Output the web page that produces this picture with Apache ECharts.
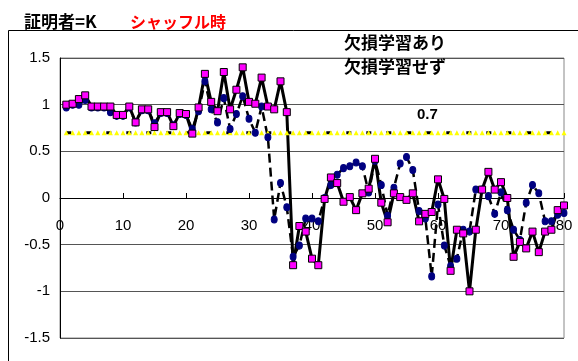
<!DOCTYPE html>
<html>
<head>
<meta charset="utf-8">
<script src="https://cdn.jsdelivr.net/npm/echarts@6/dist/echarts.min.js"></script>
<style>
  html, body { margin: 0; padding: 0; background: #fff; }
  #chart { width: 578px; height: 361px; }
</style>
</head>
<body>
<div id="chart"></div>
<script>
// trial number (x) for every measurement
const trials = [
  1, 2, 3, 4, 5, 6, 7, 8, 9, 10,
  11, 12, 13, 14, 15, 16, 17, 18, 19, 20,
  21, 22, 23, 24, 25, 26, 27, 28, 29, 30,
  31, 32, 33, 34, 35, 36, 37, 38, 39, 40,
  41, 42, 43, 44, 45, 46, 47, 48, 49, 50,
  51, 52, 53, 54, 55, 56, 57, 58, 59, 60,
  61, 62, 63, 64, 65, 66, 67, 68, 69, 70,
  71, 72, 73, 74, 75, 76, 77, 78, 79, 80
];

// 欠損学習あり (solid line, magenta squares)
const withLearning = [
  1.00, 1.01, 1.06, 1.10, 0.98, 0.98, 0.98, 0.98, 0.89, 0.89,
  0.98, 0.81, 0.95, 0.95, 0.76, 0.92, 0.92, 0.77, 0.91, 0.90,
  0.69, 0.97, 1.33, 1.03, 0.93, 1.35, 0.95, 1.16, 1.40, 1.03,
  1.01, 1.29, 0.98, 0.95, 1.25, 0.92, -0.72, -0.30, -0.36, -0.65,
  -0.72, -0.01, 0.22, 0.16, -0.04, 0.01, -0.13, 0.05, 0.10, 0.42,
  -0.05, -0.26, 0.05, 0.01, -0.02, 0.05, -0.25, -0.17, -0.15, 0.20,
  -0.01, -0.78, -0.34, -0.38, -1.00, -0.34, 0.09, 0.28, 0.09, 0.17,
  0.00, -0.63, -0.47, -0.54, -0.36, -0.58, -0.36, -0.34, -0.13, -0.08
];

// 欠損学習せず (dashed line, navy circles)
const withoutLearning = [
  0.97, 1.00, 1.00, 1.05, 0.97, 0.97, 0.97, 0.92, 0.88, 0.88,
  0.97, 0.81, 0.94, 0.94, 0.80, 0.91, 0.91, 0.78, 0.90, 0.89,
  0.74, 0.93, 1.25, 0.95, 0.81, 1.07, 0.74, 0.90, 1.09, 0.85,
  0.70, 0.98, 0.65, -0.23, 0.16, -0.10, -0.63, -0.51, -0.22, -0.22,
  -0.25, 0.00, 0.14, 0.25, 0.32, 0.34, 0.38, 0.34, 0.06, 0.40,
  0.14, -0.19, 0.11, 0.37, 0.44, 0.30, -0.14, -0.22, -0.84, -0.07,
  -0.51, -0.73, -0.65, -0.34, -0.36, 0.09, 0.09, 0.02, -0.17, 0.06,
  -0.13, -0.34, -0.45, -0.05, 0.14, 0.05, -0.25, -0.25, -0.18, -0.16
];

// threshold value and the trial where its value label sits
const threshold = 0.7;
const thresholdLabelTrial = 58;

const seriesNames = ['欠損学習あり', '欠損学習せず'];
const titleMain = '証明者=K';
const titleSub = 'シャッフル時';

const xTicks = { min: 0, max: 80, interval: 10 };
const yTicks = { min: -1.5, max: 1.5, interval: 0.5 };

// plot box geometry
const plot = { left: 60, top: 58, width: 504, height: 280 };
// the x axis is drawn through y = 0, i.e. half way up the plot box
const xAxisOffset = -(plot.height * (0 - yTicks.min) / (yTicks.max - yTicks.min));

const pairs = (ys) => trials.map((t, i) => [t, ys[i]]);
const thresholdData = trials.map((t) => {
  const item = { value: [t, threshold] };
  if (t === thresholdLabelTrial) {
    item.label = {
      show: true,
      position: 'top',
      distance: 8,
      offset: [2, 0],
      formatter: (p) => String(p.value[1]),
      fontSize: 15,
      fontWeight: 'bold',
      color: '#000',
      fontFamily: 'Liberation Sans, Arial, sans-serif'
    };
  }
  return item;
});

const jp = '"Noto Sans CJK JP", sans-serif';
const latin = '"Liberation Sans", Arial, sans-serif';

const chart = echarts.init(document.getElementById('chart'), null, { renderer: 'canvas' });
chart.setOption({
  animation: false,
  backgroundColor: '#fff',
  graphic: [{
    type: 'rect',
    silent: true,
    z: 0,
    shape: { x: 8.5, y: 30.5, width: 700, height: 500 },
    style: { fill: 'none', stroke: '#000', lineWidth: 1 }
  }],
  title: [
    {
      text: titleMain, left: 24, top: 13, padding: 0,
      textStyle: { fontSize: 17, fontWeight: 'bold', color: '#000', fontFamily: jp }
    },
    {
      text: titleSub, left: 130, top: 14, padding: 0,
      textStyle: { fontSize: 16, fontWeight: 'bold', color: '#ff0000', fontFamily: jp }
    }
  ],
  legend: {
    data: seriesNames,
    orient: 'vertical',
    left: 338,
    top: 34,
    padding: 0,
    itemWidth: 0,
    itemHeight: 0,
    itemGap: 7,
    selectedMode: false,
    textStyle: { fontSize: 17, fontWeight: 'bold', color: '#000', fontFamily: jp }
  },
  grid: {
    left: plot.left, top: plot.top, width: plot.width, height: plot.height,
    outerBoundsMode: 'none',
    containLabel: false,
    show: true, borderColor: '#888', borderWidth: 1
  },
  xAxis: {
    type: 'value',
    position: 'bottom',
    offset: xAxisOffset,
    min: xTicks.min, max: xTicks.max, interval: xTicks.interval,
    axisLine: { show: true, onZero: false, lineStyle: { color: '#000', width: 1 } },
    axisTick: { show: true, inside: true, length: 5, lineStyle: { color: '#000' } },
    axisLabel: { margin: 20, fontSize: 15, color: '#000', fontFamily: latin },
    splitLine: { show: false }
  },
  yAxis: {
    type: 'value',
    min: yTicks.min, max: yTicks.max, interval: yTicks.interval,
    axisLine: { show: true, onZero: false, lineStyle: { color: '#000', width: 1 } },
    axisTick: { show: false },
    axisLabel: { margin: 10, fontSize: 15, color: '#000', fontFamily: latin },
    splitLine: { show: true, lineStyle: { color: '#555', width: 1 } }
  },
  series: [
    {
      name: '基準',
      type: 'line',
      data: thresholdData,
      symbol: 'triangle',
      symbolSize: 5,
      itemStyle: { color: '#ffff00' },
      lineStyle: { color: '#000', width: 3, type: [5, 15] },
      silent: true
    },
    {
      name: seriesNames[1],
      type: 'line',
      data: pairs(withoutLearning),
      symbol: 'circle',
      symbolSize: [6, 7],
      showAllSymbol: true,
      itemStyle: { color: '#000080', borderColor: '#000080', borderWidth: 1 },
      lineStyle: { color: '#000', width: 2.5, type: [9, 5] }
    },
    {
      name: seriesNames[0],
      type: 'line',
      data: pairs(withLearning),
      symbol: 'rect',
      symbolSize: 7,
      showAllSymbol: true,
      itemStyle: { color: '#ff00ff', borderColor: '#000', borderWidth: 1 },
      lineStyle: { color: '#000', width: 3 }
    }
  ]
});
</script>
</body>
</html>
